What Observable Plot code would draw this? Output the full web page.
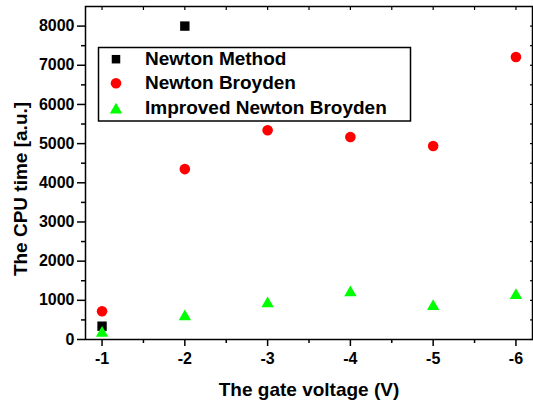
<!DOCTYPE html>
<html>
<head>
<meta charset="utf-8">
<script src="https://cdn.jsdelivr.net/npm/d3@7"></script>
<script src="https://cdn.jsdelivr.net/npm/@observablehq/plot@0.6"></script>
<style>
  html, body { margin: 0; padding: 0; background: #fff; }
  #chart { width: 533px; height: 405px; }
</style>
</head>
<body>
<div id="chart"></div>
<script>
// ---- data ----
const voltages = [-1, -2, -3, -4, -5, -6];
const newtonMethodVoltages = [-1, -2];
const newtonMethod = [340, 8000];
const newtonBroyden = [720, 4350, 5340, 5170, 4940, 7210];
const improvedNewtonBroyden = [210, 630, 960, 1240, 890, 1170];
const seriesNames = ["Newton Method", "Newton Broyden", "Improved Newton Broyden"];
const seriesColors = ["#000000", "#ff0000", "#00ff00"];
const seriesSymbols = ["square", "circle", "triangle"];
const yMajorTicks = [0, 1000, 2000, 3000, 4000, 5000, 6000, 7000, 8000];
const yMinorTicks = [500, 1500, 2500, 3500, 4500, 5500, 6500, 7500];
const xMajorTicks = [-1, -2, -3, -4, -5, -6];
const xMinorTicks = [-1.5, -2.5, -3.5, -4.5, -5.5];
const xTitle = "The gate voltage (V)";
const yTitle = "The CPU time [a.u.]";

const nmData = newtonMethodVoltages.map((v, i) => ({v, t: newtonMethod[i]}));
const nbData = voltages.map((v, i) => ({v, t: newtonBroyden[i]}));
const inbData = voltages.map((v, i) => ({v, t: improvedNewtonBroyden[i]}));

const font = "'Liberation Sans', Arial, Helvetica, sans-serif";
const blank = () => "";

const chart = Plot.plot({
  width: 533,
  height: 405,
  marginLeft: 85,
  marginRight: 1,
  marginTop: 6,
  marginBottom: 66,
  style: {fontFamily: font, color: "black", background: "white", overflow: "visible"},
  x: {domain: [-0.8, -6.2]},
  y: {domain: [0, 8500]},
  marks: [
    Plot.axisY(yMajorTicks, {anchor: "left", tickSize: 8, tickPadding: 3, fontSize: 16, fontWeight: "bold", strokeWidth: 1.5, tickFormat: d => String(d), label: null}),
    Plot.axisY(yMinorTicks, {anchor: "left", tickSize: 4, strokeWidth: 1.5, tickFormat: blank, label: null}),
    Plot.axisY(yMajorTicks.concat(yMinorTicks), {anchor: "right", tickSize: -3, strokeWidth: 1.2, tickFormat: blank, label: null}),
    Plot.axisX(xMajorTicks, {anchor: "bottom", tickSize: 7, tickPadding: 6, fontSize: 16, fontWeight: "bold", strokeWidth: 1.5, tickFormat: d => String(d), label: null}),
    Plot.axisX(xMinorTicks, {anchor: "bottom", tickSize: 4, strokeWidth: 1.5, tickFormat: blank, label: null}),
    Plot.axisX(xMajorTicks.concat(xMinorTicks), {anchor: "top", tickSize: -3, strokeWidth: 1.2, tickFormat: blank, label: null}),
    Plot.frame({strokeWidth: 1.5}),
    Plot.dot(nmData, {x: "v", y: "t", symbol: seriesSymbols[0], r: 5.3, fill: seriesColors[0], stroke: "none"}),
    Plot.dot(nbData, {x: "v", y: "t", symbol: seriesSymbols[1], r: 5.3, fill: seriesColors[1], stroke: "none"}),
    Plot.dot(inbData, {x: "v", y: "t", symbol: seriesSymbols[2], r: 4.6, dy: 1.8, fill: seriesColors[2], stroke: "none"}),
    Plot.text([xTitle], {text: d => d, frameAnchor: "bottom", dy: 50, fontSize: 19, fontWeight: "bold", lineAnchor: "middle", textAnchor: "middle"}),
    Plot.text([yTitle], {text: d => d, frameAnchor: "left", rotate: -90, dx: -65, dy: 16, fontSize: 19, fontWeight: "bold", lineAnchor: "middle", textAnchor: "middle"})
  ]
});
document.getElementById("chart").appendChild(chart);

// ---- legend inside the plot area ----
const svg = d3.select(chart);
const lg = svg.append("g").attr("font-family", font).attr("text-anchor", "start");
lg.append("rect")
  .attr("x", 98.5).attr("y", 47.5).attr("width", 312).attr("height", 73.5)
  .attr("fill", "white").attr("stroke", "black").attr("stroke-width", 1.5);
const rowY = [59.2, 83.3, 108];
const symMap = {square: d3.symbolSquare, circle: d3.symbolCircle, triangle: d3.symbolTriangle};
const symR = [4.8, 5.3, 4.6];
const symDy = [0, 0, 1.8];
seriesNames.forEach((name, i) => {
  const r = symR[i];
  lg.append("path")
    .attr("transform", `translate(116,${rowY[i] + symDy[i]})`)
    .attr("d", d3.symbol(symMap[seriesSymbols[i]], Math.PI * r * r)())
    .attr("fill", seriesColors[i]);
  lg.append("text")
    .attr("x", 145).attr("y", rowY[i] + 6.1)
    .attr("text-anchor", "start")
    .attr("font-size", 19).attr("font-weight", "bold").attr("fill", "black")
    .text(name);
});
</script>
</body>
</html>
